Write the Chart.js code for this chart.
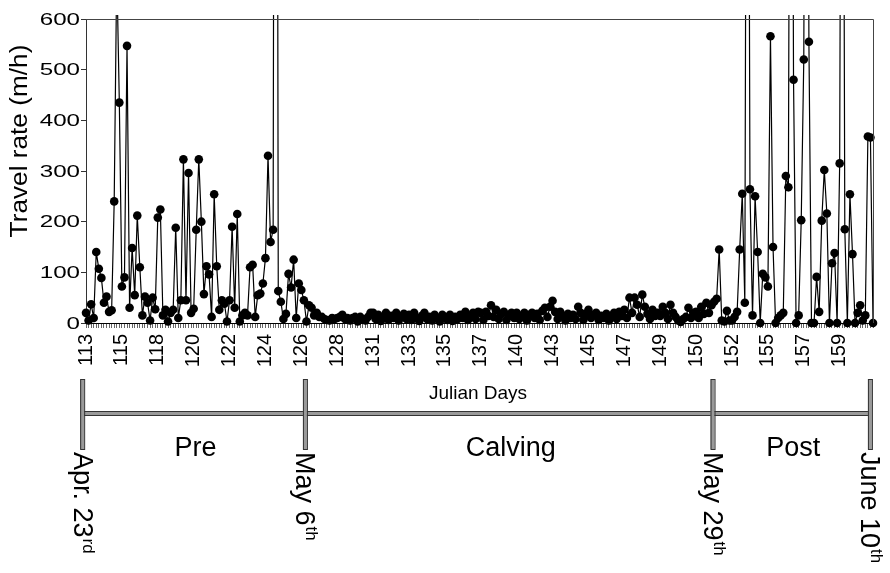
<!DOCTYPE html>
<html><head><meta charset="utf-8">
<script src="https://cdn.jsdelivr.net/npm/chart.js@4/dist/chart.umd.min.js"></script>
<style>html,body{margin:0;padding:0;background:#fff;}#wrap{width:890px;height:573px;}</style>
</head><body><div id="wrap"><canvas id="c" width="890" height="573"></canvas></div>
<script>
// Tick labels (Julian days) shown every 14th observation
const tickDays = [113,115,118,120,122,124,126,128,131,133,135,137,140,143,145,147,149,150,152,155,157,159];
const pointsPerTick = 14;
// Travel rate (m/h), rows of 14 observations per tick label interval
const travelRate = [
  20, 5, 37, 10, 140, 107, 89, 40, 52, 22, 25, 240, 700, 435,
  72, 90, 547, 30, 148, 55, 212, 110, 15, 52, 40, 5, 50, 27,
  208, 224, 15, 26, 3, 20, 26, 188, 10, 45, 323, 45, 296, 20,
  28, 184, 323, 200, 57, 112, 96, 12, 254, 112, 26, 45, 38, 3,
  45, 190, 30, 215, 3, 15, 20, 15, 110, 115, 12, 55, 58, 78,
  128, 330, 160, 184, 3000, 63, 42, 8, 18, 97, 70, 125, 10, 78,
  65, 45, 3, 35, 30, 15, 20, 12, 12, 8, 6, 5, 10, 8,
  10, 12, 16, 8, 10, 5, 10, 12, 3, 12, 8, 5, 12, 20,
  20, 8, 16, 4, 12, 20, 6, 14, 10, 20, 5, 12, 18, 8,
  16, 6, 20, 10, 4, 14, 20, 8, 12, 5, 16, 10, 3, 16,
  12, 6, 16, 4, 12, 8, 16, 10, 22, 6, 14, 20, 8, 22,
  20, 6, 22, 14, 35, 12, 26, 8, 18, 22, 6, 14, 20, 10,
  20, 8, 14, 20, 5, 16, 20, 10, 18, 6, 24, 30, 12, 32,
  44, 22, 8, 22, 14, 5, 18, 10, 16, 8, 32, 20, 6, 18,
  26, 10, 16, 20, 6, 14, 10, 18, 5, 12, 20, 8, 22, 14,
  26, 10, 50, 20, 50, 36, 12, 56, 32, 18, 8, 26, 14, 20,
  14, 32, 20, 8, 36, 20, 12, 5, 2, 8, 12, 30, 10, 20,
  22, 10, 32, 18, 40, 20, 35, 42, 48, 145, 5, 3, 24, 5,
  5, 12, 22, 145, 255, 40, 2000, 264, 15, 250, 140, 0, 97, 90,
  72, 566, 150, 0, 10, 15, 20, 290, 268, 2000, 480, 0, 15, 203,
  520, 2000, 555, 0, 0, 91, 22, 202, 302, 216, 0, 118, 138, 0,
  315, 2000, 185, 0, 254, 136, 0, 20, 35, 5, 15, 368, 366, 0
];
const yMax = 600;
const yStep = 100;
// Phase timeline below the axis (boundaries in observation-index units)
const phaseNames = ['Pre', 'Calving', 'Post'];
const boundaryDates = [['Apr. 23', 'rd'], ['May 6', 'th'], ['May 29', 'th'], ['June 10', 'th']];
const boundaryPos = [-1.5, 85.4, 244.4, 305.8];

const categories = travelRate.map((_, i) => i % pointsPerTick === 0 ? String(tickDays[i / pointsPerTick]) : '');
const FONT = "'Liberation Sans', Arial, sans-serif";

const decor = {
  id: 'decor',
  afterDraw(chart) {
    const ctx = chart.ctx, a = chart.chartArea, xs = chart.scales.x, ys = chart.scales.y;
    ctx.save();
    // plot border top/right
    ctx.strokeStyle = '#444'; ctx.lineWidth = 1;
    ctx.beginPath();
    ctx.moveTo(a.left, a.top + 0.5); ctx.lineTo(a.right + 0.5, a.top + 0.5); ctx.lineTo(a.right + 0.5, a.bottom);
    ctx.stroke();
    // y tick labels (wide)
    ctx.fillStyle = '#000';
    ctx.font = '17px ' + FONT;
    ctx.textAlign = 'right'; ctx.textBaseline = 'middle';
    ys.ticks.forEach(t => {
      const y = ys.getPixelForValue(t.value);
      ctx.save(); ctx.translate(a.left - 6, y + 1); ctx.scale(1.42, 1);
      ctx.fillText(String(t.value), 0, 0); ctx.restore();
    });
    // y title
    ctx.save(); ctx.translate(21, 141); ctx.rotate(-Math.PI / 2); ctx.scale(1.14, 1);
    ctx.font = '23px ' + FONT; ctx.textAlign = 'center'; ctx.textBaseline = 'middle';
    ctx.fillText('Travel rate (m/h)', 0, 0); ctx.restore();
    // x title
    ctx.font = '19px ' + FONT; ctx.textAlign = 'center'; ctx.textBaseline = 'alphabetic';
    ctx.fillText('Julian Days', 478, 399);
    // timeline
    const bx = boundaryPos.map(p => xs.getPixelForValue(p));
    const barY = 413;
    ctx.fillStyle = '#9a9a9a'; ctx.strokeStyle = '#333'; ctx.lineWidth = 1;
    ctx.fillRect(bx[0], barY - 2, bx[bx.length - 1] - bx[0], 4);
    ctx.strokeRect(bx[0] + 0.5, barY - 2 + 0.5, bx[bx.length - 1] - bx[0], 4);
    bx.forEach(x => {
      ctx.fillStyle = '#9a9a9a';
      ctx.fillRect(x - 2, 379, 4, 70);
      ctx.strokeRect(x - 2 + 0.5, 379.5, 4, 70);
    });
    // phase names
    ctx.fillStyle = '#000';
    ctx.font = '27px ' + FONT; ctx.textAlign = 'center'; ctx.textBaseline = 'alphabetic';
    phaseNames.forEach((n, i) => ctx.fillText(n, (bx[i] + bx[i + 1]) / 2 + 2, 456));
    // boundary dates (rotated, reading downward)
    bx.forEach((x, i) => {
      const [main, sup] = boundaryDates[i];
      ctx.save(); ctx.translate(x - 1, 452); ctx.rotate(Math.PI / 2);
      ctx.textAlign = 'left'; ctx.textBaseline = 'middle';
      ctx.font = '27px ' + FONT;
      ctx.fillText(main, 0, 0);
      const w = ctx.measureText(main).width;
      ctx.font = '17px ' + FONT;
      ctx.fillText(sup, w + 1, -7);
      ctx.restore();
    });
    ctx.restore();
  }
};

new Chart(document.getElementById('c'), {
  type: 'line',
  data: {
    labels: categories,
    datasets: [{
      data: travelRate,
      borderColor: '#000',
      borderWidth: 1.2,
      pointRadius: 4.3,
      pointBackgroundColor: '#000',
      pointBorderWidth: 0,
      tension: 0,
      clip: {left: 6, right: 6, top: 4, bottom: 6}
    }]
  },
  options: {
    responsive: false,
    animation: false,
    devicePixelRatio: 1,
    layout: {padding: {left: 0, top: 19, right: 17, bottom: 0}},
    plugins: {legend: {display: false}, tooltip: {enabled: false}},
    scales: {
      x: {
        type: 'category',
        offset: false,
        grid: {display: true, drawOnChartArea: false, drawTicks: true, tickLength: 5, color: '#666', lineWidth: 1},
        border: {display: true, color: '#000', width: 1},
        ticks: {autoSkip: false, maxRotation: 90, minRotation: 90, padding: 6, color: '#000', font: {family: FONT, size: 20}},
        afterFit(s) { s.height = 250; s.paddingLeft = 0; s.paddingRight = 0; }
      },
      y: {
        min: 0, max: yMax,
        ticks: {stepSize: yStep, display: false},
        grid: {drawOnChartArea: false, drawTicks: true, tickLength: 5, color: '#333'},
        border: {display: true, color: '#333', width: 1},
        afterFit(s) { s.width = 86; s.paddingTop = 0; s.paddingBottom = 0; }
      }
    }
  },
  plugins: [decor]
});
</script></body></html>
